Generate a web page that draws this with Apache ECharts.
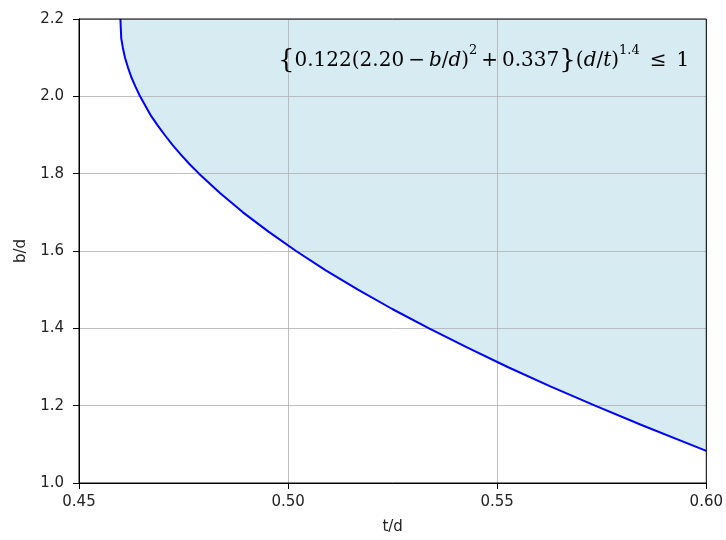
<!DOCTYPE html>
<html>
<head>
<meta charset="utf-8">
<script src="https://cdn.jsdelivr.net/npm/echarts@6/dist/echarts.min.js"></script>
<style>html,body{margin:0;padding:0;background:#fff}#c{width:726px;height:540px}</style>
</head>
<body>
<div id="c"></div>
<script>
// t/d values
const tdValues = [0.4599,0.4601,0.4605,0.4610,0.4617,0.4625,0.4635,0.4646,0.4659,0.4672,0.4688,0.4705,0.4723,0.4743,0.4764,0.4787,0.4837,0.4892,0.4953,0.5019,0.5090,0.5167,0.5249,0.5337,0.5429,0.5525,0.5627,0.5734,0.5845,0.5961,0.6000];
// matching b/d values
const bdValues = [2.200,2.150,2.125,2.100,2.075,2.050,2.025,2.000,1.975,1.950,1.925,1.900,1.875,1.850,1.825,1.800,1.750,1.700,1.650,1.600,1.550,1.500,1.450,1.400,1.350,1.300,1.250,1.200,1.150,1.100,1.083];
const xTicks = [0.45,0.50,0.55,0.60];
const yTicks = [1.0,1.2,1.4,1.6,1.8,2.0,2.2];
const xName = 't/d';
const yName = 'b/d';

const curve = tdValues.map((t,i)=>[t,bdValues[i]]);

const chart = echarts.init(document.getElementById('c'), null, {renderer:'canvas'});
const axisCommon = {
  z:2,
  axisLine:{show:true,onZero:false,lineStyle:{color:'#000',width:1}},
  axisTick:{show:true,inside:false,length:6,lineStyle:{color:'#000',width:1}},
  axisLabel:{color:'#222',fontSize:15,fontFamily:'DejaVu Sans'},
  splitLine:{show:true,lineStyle:{color:'#b0b0b0',width:0.8}},
  nameLocation:'middle',
  nameTextStyle:{color:'#222',fontSize:15,fontFamily:'DejaVu Sans'}
};
const serif = 'DejaVu Serif';
const F = 20;
chart.setOption({
  animation:false,
  backgroundColor:'#fff',
  grid:{z:4,left:79,right:19,top:19,bottom:55,show:true,borderColor:'#000',borderWidth:1,backgroundColor:'transparent'},
  xAxis:Object.assign({}, axisCommon, {
    type:'value', min:xTicks[0], max:xTicks[xTicks.length-1], interval:0.05,
    name:xName, nameGap:37,
    axisLabel:Object.assign({}, axisCommon.axisLabel, {margin:12, formatter:v=>v.toFixed(2)})
  }),
  yAxis:Object.assign({}, axisCommon, {
    type:'value', min:yTicks[0], max:yTicks[yTicks.length-1], interval:0.2,
    name:yName, nameGap:50,
    axisLabel:Object.assign({}, axisCommon.axisLabel, {margin:15, formatter:v=>v.toFixed(1)})
  }),
  series:[{
    type:'line',
    data:curve,
    showSymbol:false,
    smooth:false,
    silent:true,
    lineStyle:{width:0,opacity:0},
    areaStyle:{color:'#d6ebf2',opacity:1,origin:'end'},
    z:1
  },{
    type:'line',
    data:curve,
    showSymbol:false,
    smooth:false,
    lineStyle:{color:'#0000ff',width:2},
    z:3
  }],
  graphic:[{
    type:'text',
    left:278,
    top:44,
    z:10,
    style:{
      text:'{br|{}{n|0.122(2.20}{o|\u2009−\u2009}{i|b}{n|/}{i|d}{n|)}{s|2}{o|\u2009+\u2009}{n|0.337}}{n|(}{i|d}{n|/}{i|t}{n|)}{s|1.4}{o|\u2002≤\u2002}{n|1}',
      font:'26px "DejaVu Serif"',
      fill:'#000',
      lineHeight:34,
      verticalAlign:'middle',
      rich:{
        br:{fontFamily:serif,fontSize:26,fontWeight:'lighter',fill:'#000',lineHeight:34,verticalAlign:'middle'},
        n:{fontFamily:serif,fontSize:F,fill:'#000',lineHeight:34,verticalAlign:'middle'},
        o:{fontFamily:serif,fontSize:F,fill:'#000',lineHeight:34,verticalAlign:'middle'},
        i:{fontFamily:serif,fontSize:F,fontStyle:'italic',fill:'#000',lineHeight:34,verticalAlign:'middle'},
        s:{fontFamily:serif,fontSize:13,fill:'#000',lineHeight:11,verticalAlign:'top'}
      }
    }
  }]
});
</script>
</body>
</html>
